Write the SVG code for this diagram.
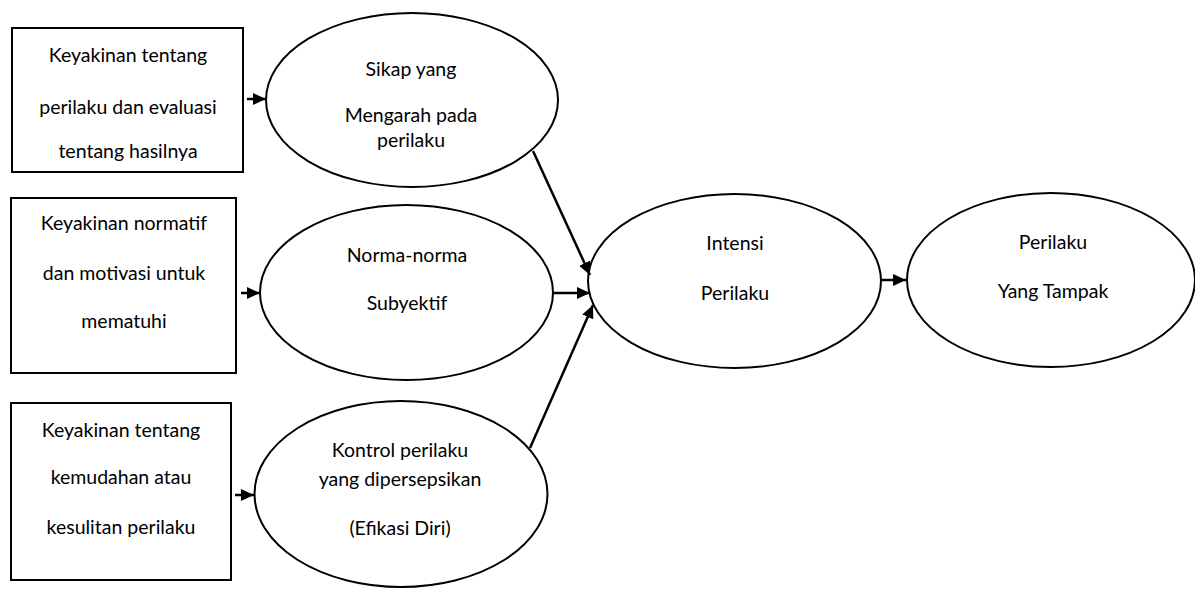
<svg xmlns="http://www.w3.org/2000/svg" width="1195" height="589" viewBox="0 0 1195 589">
  <style>
    .box { fill: #ffffff; stroke: #000000; stroke-width: 2; }
    .oval { fill: #ffffff; stroke: #000000; stroke-width: 2; }
    .lbl { font-family: Lato, "Open Sans", "Liberation Sans", sans-serif; font-size: 19.5px; fill: #000000; text-anchor: middle; }
    .edge { stroke: #000000; stroke-width: 2.5; fill: none; marker-end: url(#head); }
  </style>
  <defs>
    <marker id="head" markerUnits="userSpaceOnUse" markerWidth="13" markerHeight="12" refX="13" refY="6" orient="auto">
      <path d="M0,0 L13,6 L0,12 Z" fill="#000000"/>
    </marker>
  </defs>
  <rect width="1195" height="589" fill="#ffffff"/>

  <!-- belief boxes -->
  <g id="belief-behaviour">
    <rect class="box" x="12" y="28" width="231" height="144"/>
    <text class="lbl" x="128" y="62">Keyakinan tentang</text>
    <text class="lbl" x="128" y="114">perilaku dan evaluasi</text>
    <text class="lbl" x="128" y="158">tentang hasilnya</text>
  </g>
  <g id="belief-normative">
    <rect class="box" x="11" y="198" width="225" height="175"/>
    <text class="lbl" x="124" y="230">Keyakinan normatif</text>
    <text class="lbl" x="124" y="280">dan motivasi untuk</text>
    <text class="lbl" x="124" y="328">mematuhi</text>
  </g>
  <g id="belief-control">
    <rect class="box" x="11" y="403" width="220" height="177"/>
    <text class="lbl" x="121" y="437">Keyakinan tentang</text>
    <text class="lbl" x="121" y="484">kemudahan atau</text>
    <text class="lbl" x="121" y="534">kesulitan perilaku</text>
  </g>

  <!-- determinants -->
  <g id="attitude">
    <ellipse class="oval" cx="412" cy="100" rx="146" ry="87"/>
    <text class="lbl" x="411" y="76">Sikap yang</text>
    <text class="lbl" x="411" y="122">Mengarah pada</text>
    <text class="lbl" x="411" y="147">perilaku</text>
  </g>
  <g id="subjective-norm">
    <ellipse class="oval" cx="406.5" cy="292.5" rx="146.5" ry="87.5"/>
    <text class="lbl" x="407" y="262">Norma-norma</text>
    <text class="lbl" x="407" y="310">Subyektif</text>
  </g>
  <g id="perceived-control">
    <ellipse class="oval" cx="401" cy="494" rx="146.5" ry="93"/>
    <text class="lbl" x="400" y="457">Kontrol perilaku</text>
    <text class="lbl" x="400" y="486">yang dipersepsikan</text>
    <text class="lbl" x="400" y="535">(Efikasi Diri)</text>
  </g>

  <!-- outcomes -->
  <g id="intention">
    <ellipse class="oval" cx="734.5" cy="281" rx="146.5" ry="87"/>
    <text class="lbl" x="735" y="250">Intensi</text>
    <text class="lbl" x="735" y="300">Perilaku</text>
  </g>
  <g id="behaviour">
    <ellipse class="oval" cx="1051" cy="280" rx="144" ry="87"/>
    <text class="lbl" x="1053" y="249">Perilaku</text>
    <text class="lbl" x="1053" y="298">Yang Tampak</text>
  </g>

  <!-- connectors -->
  <g id="connectors">
    <line class="edge" x1="247" y1="99" x2="266" y2="99"/>
    <line class="edge" x1="241" y1="293" x2="260" y2="293"/>
    <line class="edge" x1="235" y1="495" x2="254" y2="495"/>
    <line class="edge" x1="533" y1="151" x2="590" y2="275"/>
    <line class="edge" x1="553" y1="293" x2="590" y2="293"/>
    <line class="edge" x1="530" y1="448" x2="593" y2="305"/>
    <line class="edge" x1="881" y1="280" x2="906" y2="280"/>
  </g>
</svg>
